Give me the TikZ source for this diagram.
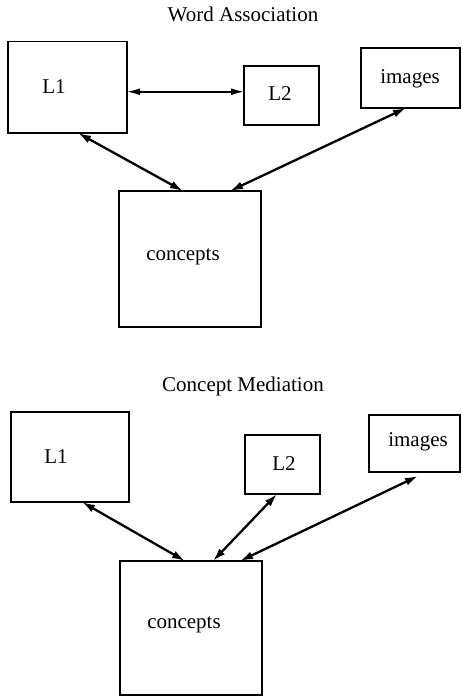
\documentclass[tikz,border=0pt]{standalone}
\usepackage{fontspec}
\setmainfont{Liberation Serif}
\usetikzlibrary{arrows.meta,calc}
\begin{document}
\begin{tikzpicture}[x=1pt,y=-1pt,
  box/.style={draw=black,line width=1.4pt,inner sep=0pt,outer sep=0pt},
  lbl/.style={anchor=base,inner sep=0pt,font=\fontsize{21}{24}\selectfont},
  link/.style={line width=2.3pt,{Latex[length=13pt,width=8pt]}-{Latex[length=13pt,width=8pt]}},
  thinlink/.style={line width=1.6pt,{Latex[length=13pt,width=7pt]}-{Latex[length=13pt,width=7pt]}}]
\useasboundingbox[fill=white] (0,0) rectangle (461,696);

% ---------- Word Association ----------
\node[lbl] (t1) at (243,21) {Word Association};
\node[box,minimum width=119pt,minimum height=91.5pt] (L1a) at (67.5,87.25) {};
\node[box,minimum width=75pt,minimum height=59pt] (L2a) at (281.5,95.5) {};
\node[box,minimum width=99pt,minimum height=60pt] (IMa) at (410.5,78) {};
\node[box,minimum width=142pt,minimum height=136pt] (Ca) at (190,259) {};
\node[lbl] (L1aT) at (54,93.3) {L1};
\node[lbl] (L2aT) at (280,100) {L2};
\node[lbl] (IMaT) at (410,83.3) {images};
\node[lbl] (CaT) at (183,260) {concepts};

\coordinate (h1) at ($(L1a.east)+(0,4.5)$);
\draw[thinlink] (h1) -- (h1 -| L2a.west);
\draw[link] ($(L1a.south)+(10.5,0)$) -- ($(Ca.north)+(-7,0)$);
\draw[link] ($(IMa.south)+(-4.5,0)$) -- ($(Ca.north)+(40,0)$);

% ---------- Concept Mediation ----------
\node[lbl] (t2) at (243,391.7) {Concept Mediation};
\node[box,minimum width=118pt,minimum height=90pt] (L1b) at (70,457) {};
\node[box,minimum width=75pt,minimum height=59pt] (L2b) at (282.5,464.5) {};
\node[box,minimum width=91pt,minimum height=57pt] (IMb) at (414.5,443.5) {};
\node[box,minimum width=142pt,minimum height=134pt] (Cb) at (191,628) {};
\node[lbl] (L1bT) at (56,463.3) {L1};
\node[lbl] (L2bT) at (284,470) {L2};
\node[lbl] (IMbT) at (418,446.7) {images};
\node[lbl] (CbT) at (184,628) {concepts};

\draw[link] ($(L1b.south)+(12,0)$) -- ($(Cb.north)+(-6,0)$);
\draw[link] ($(L2b.south)+(-5.5,0)$) -- ($(Cb.north)+(22,0)$);
\draw[link] ($(IMb.south)+(3.5,4)$) -- ($(Cb.north)+(49,0)$);
\end{tikzpicture}
\end{document}
